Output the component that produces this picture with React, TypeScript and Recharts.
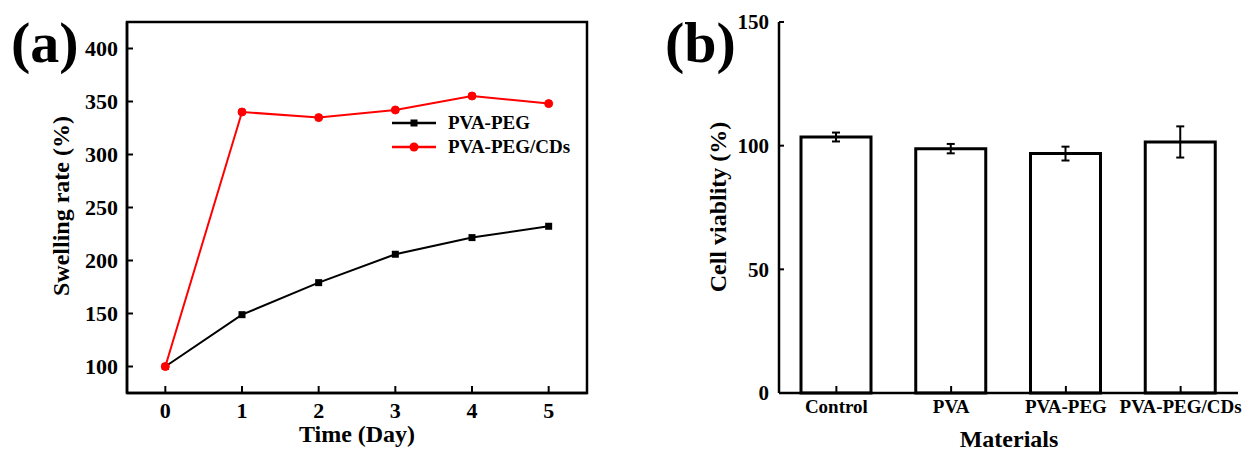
import { Bar, BarChart, ErrorBar, Legend, Line, LineChart, ReferenceArea, XAxis, YAxis } from 'recharts';

const FONT = "'Liberation Serif', 'Times New Roman', serif";

// (a) swelling rate vs time
const days = [0, 1, 2, 3, 4, 5];
const pvaPeg = [100, 148.9, 179.1, 205.9, 221.6, 232.3];
const pvaPegCds = [100, 340.1, 334.8, 342, 355.2, 348];
const swellTicks = [100, 150, 200, 250, 300, 350, 400];

// (b) cell viability
const materials = ['Control', 'PVA', 'PVA-PEG', 'PVA-PEG/CDs'];
const viability = [103.5, 98.8, 96.8, 101.5];
const viabilityErr = [1.8, 1.9, 2.8, 6.3];
const viabilityTicks = [0, 50, 100, 150];

const swellData = days.map((d, i) => ({ day: d, peg: pvaPeg[i], cds: pvaPegCds[i] }));
const cellData = materials.map((m, i) => ({ name: m, value: viability[i], err: viabilityErr[i] }));

const axisLine = { stroke: '#000', strokeWidth: 2.5 };
const tickLine = { stroke: '#000', strokeWidth: 2 };
const titleStyle = { fontFamily: FONT, fontWeight: 'bold' as const, fontSize: 24, fill: '#000' };

const legendItems = [
  { name: 'PVA-PEG', color: '#000', shape: 'square' },
  { name: 'PVA-PEG/CDs', color: '#ff0000', shape: 'circle' },
];

const SwellLegend = () => (
  <div style={{ fontFamily: FONT, fontWeight: 'bold', fontSize: 19, color: '#000' }}>
    {legendItems.map((it) => (
      <div key={it.name} style={{ display: 'flex', alignItems: 'center', height: 24 }}>
        <svg width={46} height={12} style={{ marginRight: 10 }}>
          <line x1={0} x2={44} y1={6} y2={6} stroke={it.color} strokeWidth={2.5} />
          {it.shape === 'square' ? (
            <rect x={18.5} y={2.5} width={7} height={7} fill={it.color} />
          ) : (
            <circle cx={22} cy={6} r={4.5} fill={it.color} />
          )}
        </svg>
        <span>{it.name}</span>
      </div>
    ))}
  </div>
);

const SquareDot = (props: any) => {
  const { cx, cy, index } = props;
  return <rect key={`sq-${index}`} x={cx - 3.5} y={cy - 3.5} width={7} height={7} fill="#000" />;
};

const SwellingChart = () => (
  <LineChart width={620} height={454} data={swellData} margin={{ top: 22, right: 33, left: 0, bottom: 0 }}>
    <ReferenceArea x1={-0.5} x2={5.5} y1={75} y2={425} fill="none" stroke="#000" strokeWidth={2.5} />
    <XAxis
      dataKey="day"
      type="number"
      domain={[-0.5, 5.5]}
      ticks={days}
      height={61}
      axisLine={axisLine}
      tickLine={tickLine}
      tickSize={-7}
      tickMargin={16}
      tick={{ fontFamily: FONT, fontWeight: 'bold', fontSize: 22, fill: '#000' }}
      label={() => (
        <text x={357} y={442} textAnchor="middle" style={titleStyle}>
          Time (Day)
        </text>
      )}
    />
    <YAxis
      type="number"
      domain={[75, 425]}
      ticks={swellTicks}
      width={127}
      axisLine={axisLine}
      tickLine={tickLine}
      tickSize={-6}
      tickMargin={15}
      tick={{ fontFamily: FONT, fontWeight: 'bold', fontSize: 22, fill: '#000' }}
      label={() => (
        <text x={61} y={206} transform="rotate(-90 61 206)" textAnchor="middle" dominantBaseline="central" style={titleStyle}>
          Swelling rate (%)
        </text>
      )}
    />
    <Legend
      content={<SwellLegend />}
      layout="vertical"
      align="center"
      verticalAlign="middle"
      wrapperStyle={{ left: 392, top: 111, width: 'auto' }}
    />
    <Line dataKey="peg" name="PVA-PEG" stroke="#000" strokeWidth={2} dot={SquareDot} isAnimationActive={false} />
    <Line
      dataKey="cds"
      name="PVA-PEG/CDs"
      stroke="#ff0000"
      strokeWidth={2}
      dot={{ r: 4, fill: '#ff0000', stroke: '#ff0000', strokeWidth: 1 }}
      isAnimationActive={false}
    />
  </LineChart>
);

const ViabilityChart = () => (
  <BarChart width={629} height={454} data={cellData} margin={{ top: 22, right: 11, left: 0, bottom: 0 }}>
    <XAxis
      dataKey="name"
      height={61}
      axisLine={axisLine}
      tickLine={tickLine}
      tickSize={-7}
      tickMargin={14}
      tick={{ fontFamily: FONT, fontWeight: 'bold', fontSize: 19, fill: '#000' }}
      label={() => (
        <text x={389} y={447} textAnchor="middle" style={titleStyle}>
          Materials
        </text>
      )}
    />
    <YAxis
      type="number"
      domain={[0, 150]}
      ticks={viabilityTicks}
      width={159}
      axisLine={axisLine}
      tickLine={tickLine}
      tickSize={-5}
      tickMargin={15}
      tick={{ fontFamily: FONT, fontWeight: 'bold', fontSize: 21, fill: '#000' }}
      label={() => (
        <text x={98} y={207} transform="rotate(-90 98 207)" textAnchor="middle" dominantBaseline="central" style={titleStyle}>
          Cell viablity (%)
        </text>
      )}
    />
    <Bar dataKey="value" fill="#fff" stroke="#000" strokeWidth={3} barSize={70} isAnimationActive={false}>
      <ErrorBar dataKey="err" direction="y" width={4} stroke="#000" strokeWidth={2} />
    </Bar>
  </BarChart>
);

export default function App() {
  return (
    <div style={{ position: 'absolute', left: 0, top: 0, width: 1249, height: 454, background: '#fff' }}>
      <div style={{ position: 'absolute', left: 0, top: 0 }}>
        <SwellingChart />
      </div>
      <div style={{ position: 'absolute', left: 620, top: 0 }}>
        <ViabilityChart />
      </div>
      <svg width={1249} height={454} style={{ position: 'absolute', left: 0, top: 0, pointerEvents: 'none' }}>
        <text x={11} y={62} style={{ fontFamily: FONT, fontWeight: 'bold', fontSize: 58, fill: '#000' }}>
          (a)
        </text>
        <text x={665} y={62} style={{ fontFamily: FONT, fontWeight: 'bold', fontSize: 58, fill: '#000' }}>
          (b)
        </text>
      </svg>
    </div>
  );
}
